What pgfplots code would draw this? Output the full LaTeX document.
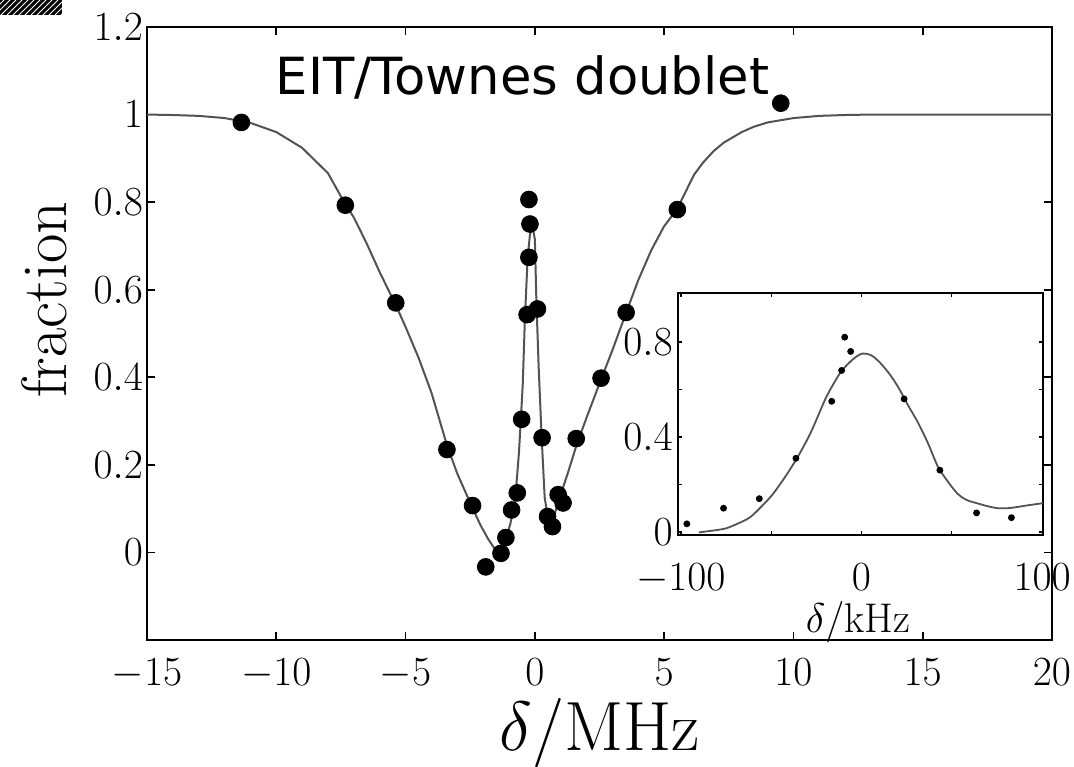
\documentclass[border=0pt]{standalone}
\usepackage{fontspec}
\usepackage{graphicx}
\usepackage{pgfplots}
\pgfplotsset{compat=1.18}
\usetikzlibrary{patterns}
\newfontfamily\titlefont{DejaVu Sans}

% measured transmission fraction vs. probe detuning (MHz)
\pgfplotstableread{
x y
-11.35 0.982
-7.33 0.793
-5.38 0.570
-3.40 0.235
-2.41 0.107
-1.90 -0.033
-1.31 -0.002
-1.12 0.034
-0.90 0.097
-0.68 0.136
-0.51 0.304
-0.30 0.543
-0.23 0.674
-0.19 0.750
-0.23 0.806
0.10 0.556
0.28 0.262
0.49 0.082
0.68 0.059
0.90 0.132
1.09 0.113
1.60 0.260
2.56 0.398
3.53 0.548
5.51 0.783
9.51 1.026
}\mainpts

% fitted line shape (MHz)
\pgfplotstableread{
x y
-15 1.000
-14 0.999
-13 0.997
-12 0.992
-11 0.981
-10 0.960
-9 0.924
-8 0.866
-7.33 0.795
-7 0.765
-6.5 0.705
-6 0.640
-5.38 0.565
-5 0.515
-4.5 0.445
-4 0.365
-3.4 0.245
-3 0.180
-2.7 0.140
-2.4 0.100
-2.1 0.062
-1.8 0.030
-1.55 0.008
-1.35 0.000
-1.15 0.025
-0.95 0.065
-0.77 0.113
-0.615 0.228
-0.47 0.381
-0.385 0.534
-0.28 0.672
-0.19 0.726
-0.09 0.745
0.0 0.715
0.06 0.572
0.15 0.419
0.26 0.266
0.38 0.125
0.50 0.082
0.64 0.072
0.78 0.090
0.92 0.122
1.1 0.150
1.28 0.182
1.6 0.243
2.0 0.308
2.56 0.395
3.0 0.462
3.59 0.557
4.0 0.622
4.5 0.690
5.0 0.745
5.51 0.785
6.15 0.862
6.5 0.890
6.92 0.917
7.31 0.936
8.0 0.960
8.46 0.972
9.0 0.982
10 0.992
11 0.997
12 0.999
13 1.000
20 1.000
}\mainfit

% central peak, kHz
\pgfplotstableread{
x y
-96.7 0.034
-76.4 0.100
-56.6 0.140
-36.3 0.310
-16.5 0.550
-11.0 0.680
-9.3 0.820
-6.0 0.760
23.6 0.560
43.4 0.260
63.7 0.080
83.0 0.060
}\insetpts

\pgfplotstableread{
x y
-90 -0.002
-80 0.008
-75 0.015
-70 0.030
-62 0.060
-55 0.110
-49 0.160
-42 0.235
-35 0.320
-28 0.420
-20 0.560
-15 0.630
-10.8 0.680
-5 0.725
0 0.750
5 0.745
9.3 0.720
15 0.670
20.3 0.610
26 0.530
31.3 0.460
37 0.370
42.3 0.275
48 0.210
53.3 0.160
58 0.135
64.3 0.120
70 0.108
75.3 0.100
81 0.100
86.3 0.105
92 0.112
100.5 0.121
}\insetfit

\begin{document}
\begin{tikzpicture}
\useasboundingbox (0,0) rectangle (537pt,383pt);
\fill[black] (0,383pt) rectangle (31pt,375.5pt);
\fill[pattern=north east lines, pattern color=white] (0,383pt) rectangle (31pt,375.5pt);

\begin{axis}[
  at={(73.5pt,63pt)}, anchor=south west,
  scale only axis, width=452.5pt, height=306.5pt,
  xmin=-15, xmax=20, ymin=-0.2, ymax=1.2,
  xtick={-15,-10,-5,0,5,10,15,20},
  ytick={0,0.2,0.4,0.6,0.8,1,1.2},
  yticklabel style={/pgf/number format/fixed, xshift=1.5pt},
  xticklabel style={yshift=-6pt},
  tick align=inside, major tick length=4pt,
  every tick/.style={black, line width=0.8pt},
  axis line style={line width=1.4pt},
  tick label style={font=\fontsize{20.74}{24}\selectfont},
  xlabel={\scalebox{1.4}{$\delta/\mathrm{MHz}$}}, ylabel={fraction},
  xlabel style={font=\fontsize{24.88}{28}\selectfont, at={(axis description cs:0.5,-0.152)}, anchor=center},
  ylabel style={font=\fontsize{32}{36}\selectfont, at={(axis description cs:-0.113,0.555)}, anchor=center},
]
\addplot[gray!65!black, line width=1pt] table[x=x, y=y] {\mainfit};
\addplot[only marks, mark=*, mark size=4.2pt, mark options={fill=black, draw=black}] table[x=x, y=y] {\mainpts};
\node[font=\titlefont\fontsize{25.6}{30}\selectfont] at (rel axis cs:0.415,0.917) {EIT/Townes doublet};
\end{axis}

\begin{axis}[
  at={(339pt,115.5pt)}, anchor=south west,
  scale only axis, width=182.5pt, height=121pt,
  xmin=-101.6, xmax=100.5, ymin=-0.013, ymax=1.006,
  xtick={-100,0,100}, minor xtick={-50,50},
  ytick={0,0.4,0.8}, minor ytick={0.2,0.6},
  tick label style={font=\fontsize{20.74}{24}\selectfont, inner sep=1pt},
  yticklabel style={/pgf/number format/fixed, xshift=-1.5pt},
  xticklabel style={yshift=-13pt},
  axis background/.style={fill=white},
  tick align=inside, major tick length=2pt, minor tick length=2pt,
  every tick/.style={black, line width=0.6pt},
  axis line style={line width=1pt},
  xlabel={$\delta/\mathrm{kHz}$},
  xlabel style={font=\fontsize{20.74}{24}\selectfont, at={(axis description cs:0.493,-0.36)}, anchor=center},
]
\addplot[gray!65!black, line width=0.9pt, smooth] table[x=x, y=y] {\insetfit};
\addplot[only marks, mark=*, mark size=1.5pt, mark options={fill=black, draw=black}] table[x=x, y=y] {\insetpts};
\end{axis}
\end{tikzpicture}
\end{document}
